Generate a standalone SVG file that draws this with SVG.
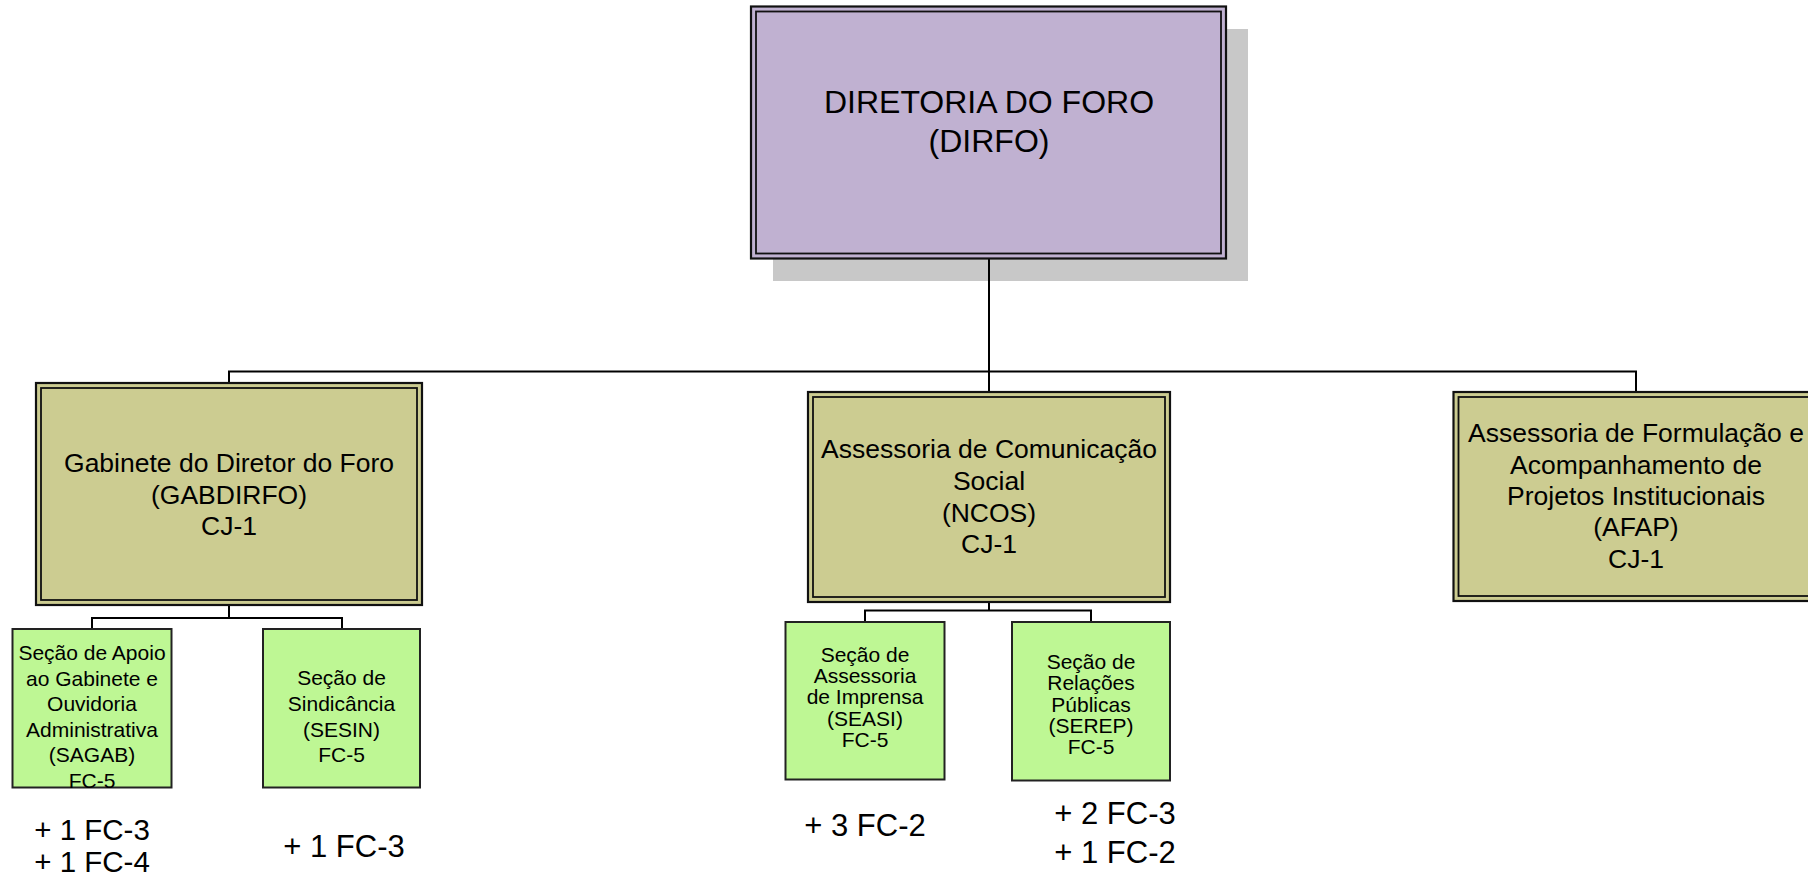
<svg xmlns="http://www.w3.org/2000/svg" width="1808" height="879" viewBox="0 0 1808 879">
<style>
text{font-family:"Liberation Sans",Arial,sans-serif;fill:#000;text-anchor:middle}
.t32{font-size:32px}
.t26{font-size:26.5px}
.t21{font-size:21px}
.t28{font-size:29.5px}
.t31{font-size:31px}
.outer{stroke:#111;stroke-width:2.2}
.inner{fill:none;stroke:#111;stroke-width:1.8}
.purple{fill:#C0B1D1}
.khaki{fill:#CCCC91}
.green{fill:#BEF794;stroke:#222;stroke-width:2}
.conn{fill:none;stroke:#000;stroke-width:2}
</style>
<rect width="1808" height="879" fill="#fff"/>
<g id="connectors">
<path class="conn" d="M989 258 V371.5"/>
<path class="conn" d="M229 383 V371.5 H1636 V392"/>
<path class="conn" d="M989 371.5 V392"/>
<path class="conn" d="M229 605 V618"/>
<path class="conn" d="M92 629 V618 H342 V629"/>
<path class="conn" d="M989 602 V610.5"/>
<path class="conn" d="M865 622 V610.5 H1091 V622"/>
</g>
<g id="dirfo">
<rect x="773" y="29" width="475" height="252" fill="#C8C8C8"/>
<path class="conn" d="M989 258 V281"/>
<rect class="outer purple" x="751" y="6.5" width="475" height="252"/>
<rect class="inner" x="756" y="11.5" width="465" height="242"/>
<text class="t32" x="989" y="113">DIRETORIA DO FORO</text>
<text class="t32" x="989" y="152">(DIRFO)</text>
</g>
<g id="gabdirfo">
<rect class="outer khaki" x="36" y="383" width="386" height="222"/>
<rect class="inner" x="41" y="388" width="376" height="212"/>
<text class="t26" x="229" y="472">Gabinete do Diretor do Foro</text>
<text class="t26" x="229" y="503.5">(GABDIRFO)</text>
<text class="t26" x="229" y="535">CJ-1</text>
</g>
<g id="ncos">
<rect class="outer khaki" x="808" y="392" width="362" height="210"/>
<rect class="inner" x="813" y="397" width="352" height="200"/>
<text class="t26" x="989" y="458">Assessoria de Comunicação</text>
<text class="t26" x="989" y="490">Social</text>
<text class="t26" x="989" y="521.5">(NCOS)</text>
<text class="t26" x="989" y="553">CJ-1</text>
</g>
<g id="afap">
<rect class="outer khaki" x="1453.5" y="392" width="364" height="209"/>
<rect class="inner" x="1458.5" y="397" width="354" height="199"/>
<text class="t26" x="1636" y="442">Assessoria de Formulação e</text>
<text class="t26" x="1636" y="473.5">Acompanhamento de</text>
<text class="t26" x="1636" y="504.5">Projetos Institucionais</text>
<text class="t26" x="1636" y="536">(AFAP)</text>
<text class="t26" x="1636" y="567.5">CJ-1</text>
</g>
<g id="sagab">
<rect class="green" x="12.5" y="629" width="159" height="158.5"/>
<text class="t21" x="92" y="660">Seção de Apoio</text>
<text class="t21" x="92" y="685.5">ao Gabinete e</text>
<text class="t21" x="92" y="711">Ouvidoria</text>
<text class="t21" x="92" y="736.5">Administrativa</text>
<text class="t21" x="92" y="762">(SAGAB)</text>
<text class="t21" x="92" y="787.5">FC-5</text>
</g>
<g id="sesin">
<rect class="green" x="263" y="629" width="157" height="158.5"/>
<text class="t21" x="341.5" y="685">Seção de</text>
<text class="t21" x="341.5" y="711">Sindicância</text>
<text class="t21" x="341.5" y="737">(SESIN)</text>
<text class="t21" x="341.5" y="762">FC-5</text>
</g>
<g id="seasi">
<rect class="green" x="785.5" y="622" width="159" height="157.5"/>
<text class="t21" x="865" y="661.5">Seção de</text>
<text class="t21" x="865" y="682.5">Assessoria</text>
<text class="t21" x="865" y="704">de Imprensa</text>
<text class="t21" x="865" y="725.5">(SEASI)</text>
<text class="t21" x="865" y="746.5">FC-5</text>
</g>
<g id="serep">
<rect class="green" x="1012" y="622" width="158" height="158.5"/>
<text class="t21" x="1091" y="669">Seção de</text>
<text class="t21" x="1091" y="690">Relações</text>
<text class="t21" x="1091" y="711.5">Públicas</text>
<text class="t21" x="1091" y="732.5">(SEREP)</text>
<text class="t21" x="1091" y="753.5">FC-5</text>
</g>
<g id="extras">
<text class="t28" x="92" y="840">+ 1 FC-3</text>
<text class="t28" x="92" y="872">+ 1 FC-4</text>
<text class="t31" x="344" y="857">+ 1 FC-3</text>
<text class="t31" x="865" y="836">+ 3 FC-2</text>
<text class="t31" x="1115" y="824">+ 2 FC-3</text>
<text class="t31" x="1115" y="863">+ 1 FC-2</text>
</g>
</svg>
